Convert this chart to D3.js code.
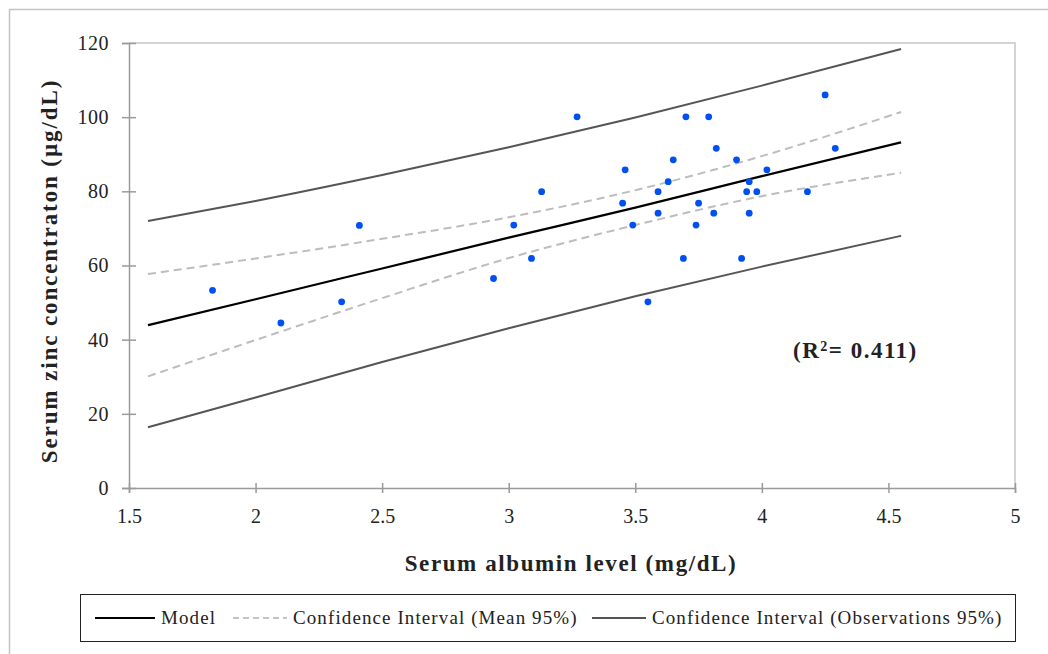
<!DOCTYPE html>
<html>
<head>
<meta charset="utf-8">
<script src="https://cdn.jsdelivr.net/npm/d3@7"></script>
<style>
  body { margin: 0; background: #fff; }
  svg { display: block; }
  text { font-family: "Liberation Serif", "DejaVu Serif", serif; fill: #222; }
</style>
</head>
<body>
<script>
// observed points: serum albumin (mg/dL) vs serum zinc (µg/dL)
var albumin = [1.83, 2.10, 2.34, 2.41, 2.94, 3.02, 3.09, 3.13, 3.27, 3.45, 3.46, 3.49,
  3.55, 3.59, 3.59, 3.63, 3.65, 3.69, 3.70, 3.74, 3.75, 3.79, 3.81, 3.82,
  3.90, 3.92, 3.94, 3.95, 3.95, 3.98, 4.02, 4.18, 4.25, 4.29];
var zinc = [53.3, 44.5, 50.2, 70.8, 56.5, 70.9, 61.9, 79.9, 100.1, 76.8, 85.8, 70.9,
  50.2, 79.9, 74.1, 82.6, 88.5, 61.9, 100.1, 70.9, 76.8, 100.1, 74.1, 91.6,
  88.5, 61.9, 79.9, 82.6, 74.1, 79.9, 85.8, 79.9, 106.0, 91.6];

// regression lines
var lineX = [1.575, 2.0, 2.5, 3.0, 3.5, 4.0, 4.55];
var model = [43.9, 50.9, 59.2, 67.5, 75.6, 84.1, 93.2];
var meanUpper = [57.7, 61.9, 67.2, 73.0, 80.3, 89.5, 101.4];
var meanLower = [30.1, 39.9, 51.2, 62.0, 70.9, 78.7, 85.0];
var obsUpper = [72.0, 77.4, 84.4, 91.9, 99.9, 108.5, 118.4];
var obsLower = [16.4, 24.4, 34.0, 43.1, 51.7, 59.7, 68.0];

var xTicks = [1.5, 2, 2.5, 3, 3.5, 4, 4.5, 5];
var yTicks = [0, 20, 40, 60, 80, 100, 120];

var width = 1048, height = 654;

var svg = d3.select("body").append("svg")
  .attr("width", width)
  .attr("height", height);

svg.append("rect").attr("width", width).attr("height", height).attr("fill", "#fff");

// outer frame (runs off the right and bottom edges)
svg.append("rect")
  .attr("x", 9.5).attr("y", 9.5)
  .attr("width", 1100).attr("height", 700)
  .attr("fill", "none")
  .attr("stroke", "#c4c4c4")
  .attr("stroke-width", 1.5);

var x = d3.scaleLinear().domain([1.5, 5]).range([129, 1015]);
var y = d3.scaleLinear().domain([0, 120]).range([488, 43]);

// plot area border top + right
svg.append("path")
  .attr("d", "M" + x(1.5) + "," + y(120) + "H" + x(5) + "V" + y(0))
  .attr("fill", "none")
  .attr("stroke", "#c6c6c6")
  .attr("stroke-width", 1.5);

// y axis
var yAxis = svg.append("g")
  .attr("transform", "translate(" + x(1.5) + ",0)")
  .call(d3.axisLeft(y).tickValues(yTicks).tickSize(7).tickPadding(13));
yAxis.select(".domain").attr("stroke", "#9a9a9a").attr("stroke-width", 1.5);
yAxis.selectAll(".tick line").attr("x1", 7).attr("stroke", "#9a9a9a").attr("stroke-width", 1.5);
yAxis.selectAll(".tick text")
  .style("font-family", "'Liberation Serif', serif")
  .style("font-size", "20px")
  .style("letter-spacing", "0.5px")
  .attr("fill", "#222");

// x axis
var xAxis = svg.append("g")
  .attr("transform", "translate(0," + y(0) + ")")
  .call(d3.axisBottom(x).tickValues(xTicks).tickSize(5).tickPadding(16).tickFormat(d3.format("")));
xAxis.select(".domain").attr("stroke", "#9a9a9a").attr("stroke-width", 1.5);
xAxis.selectAll(".tick line").attr("y1", -5).attr("stroke", "#9a9a9a").attr("stroke-width", 1.5);
xAxis.selectAll(".tick text")
  .style("font-family", "'Liberation Serif', serif")
  .style("font-size", "20px")
  .attr("fill", "#222");

var line = d3.line()
  .x(function(d) { return x(d[0]); })
  .y(function(d) { return y(d[1]); })
  .curve(d3.curveMonotoneX);

function pairs(vals) {
  return lineX.map(function(v, i) { return [v, vals[i]]; });
}

[obsUpper, obsLower].forEach(function(s) {
  svg.append("path")
    .attr("d", line(pairs(s)))
    .attr("fill", "none")
    .attr("stroke", "#555")
    .attr("stroke-width", 2);
});

[meanUpper, meanLower].forEach(function(s) {
  svg.append("path")
    .attr("d", line(pairs(s)))
    .attr("fill", "none")
    .attr("stroke", "#bdbdbd")
    .attr("stroke-width", 2)
    .attr("stroke-dasharray", "8,5");
});

svg.append("path")
  .attr("d", line(pairs(model)))
  .attr("fill", "none")
  .attr("stroke", "#000")
  .attr("stroke-width", 2.2);

// points
svg.append("g").selectAll("circle")
  .data(albumin.map(function(a, i) { return [a, zinc[i]]; }))
  .enter().append("circle")
  .attr("cx", function(d) { return x(d[0]); })
  .attr("cy", function(d) { return y(d[1]); })
  .attr("r", 3.4)
  .attr("fill", "#0050f0");

// axis titles
svg.append("text")
  .attr("x", 571).attr("y", 571)
  .attr("text-anchor", "middle")
  .style("font-size", "23px")
  .style("font-weight", "bold")
  .style("letter-spacing", "1.6px")
  .text("Serum albumin level (mg/dL)");

svg.append("text")
  .attr("transform", "translate(57,271) rotate(-90)")
  .attr("text-anchor", "middle")
  .style("font-size", "23px")
  .style("font-weight", "bold")
  .style("letter-spacing", "1.9px")
  .text("Serum zinc concentraton (µg/dL)");

// R squared
var r2 = svg.append("text")
  .attr("x", 793).attr("y", 358)
  .style("font-size", "23px")
  .style("font-weight", "bold")
  .style("letter-spacing", "1.5px");
r2.append("tspan").text("(R");
r2.append("tspan").attr("dy", -7).style("font-size", "14px").text("2");
r2.append("tspan").attr("dy", 7).text("= 0.411)");

// legend
var legend = svg.append("g");
legend.append("rect")
  .attr("x", 80.5).attr("y", 594.5)
  .attr("width", 935).attr("height", 47)
  .attr("fill", "#fff")
  .attr("stroke", "#222")
  .attr("stroke-width", 1);

var legendItems = [
  { label: "Model", x0: 95, x1: 155, color: "#000", dash: null },
  { label: "Confidence Interval (Mean 95%)", x0: 233, x1: 287, color: "#c4c4c4", dash: "6,4" },
  { label: "Confidence Interval (Observations 95%)", x0: 592, x1: 646, color: "#555", dash: null }
];
legendItems.forEach(function(it) {
  legend.append("line")
    .attr("x1", it.x0).attr("x2", it.x1)
    .attr("y1", 618).attr("y2", 618)
    .attr("stroke", it.color)
    .attr("stroke-width", 2.2)
    .attr("stroke-dasharray", it.dash);
  legend.append("text")
    .attr("x", it.x1 + 6).attr("y", 624)
    .style("font-size", "19px")
    .style("letter-spacing", "1.1px")
    .text(it.label);
});
</script>
</body>
</html>
